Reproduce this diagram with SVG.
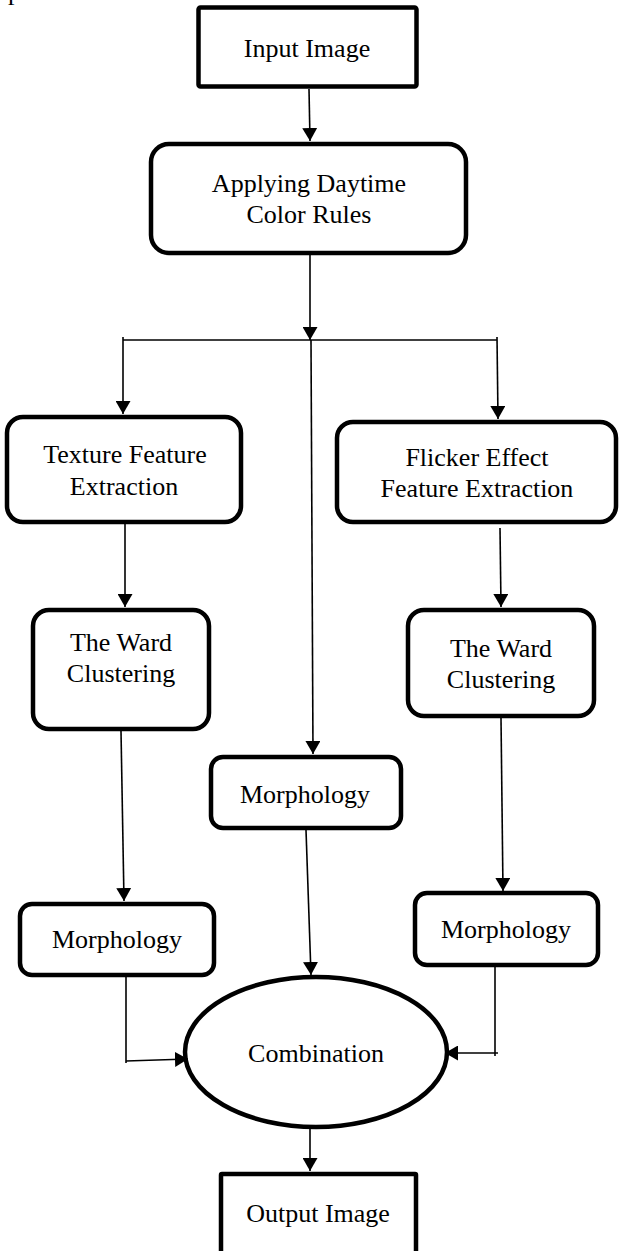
<svg xmlns="http://www.w3.org/2000/svg" width="619" height="1251" viewBox="0 0 619 1251">
<style>
  .box{fill:#fff;stroke:#000;stroke-width:4.5}
  .lbl{font-family:"Liberation Serif","Times New Roman",serif;font-size:26px;fill:#000;text-anchor:middle}
  .c{fill:none;stroke:#000;stroke-width:1.6}
</style>
<defs>
  <marker id="ah" markerUnits="userSpaceOnUse" markerWidth="14" markerHeight="15" refX="13" refY="7.5" orient="auto">
    <path d="M0,0 L13,7.5 L0,15 z" fill="#000"/>
  </marker>
</defs>
<rect width="619" height="1251" fill="#fff"/>
<text x="8" y="0" style="font-family:'Liberation Serif',serif;font-size:26px">points.</text>

<g id="input">
  <rect class="box" x="198.5" y="7.5" width="218" height="79" rx="2"/>
  <text class="lbl" x="307" y="57">Input Image</text>
</g>
<g id="applying">
  <rect class="box" x="151" y="144" width="315" height="109" rx="18"/>
  <text class="lbl" x="309" y="192">Applying Daytime</text>
  <text class="lbl" x="309" y="223">Color Rules</text>
</g>
<g id="texture">
  <rect class="box" x="7" y="417" width="234" height="105" rx="16"/>
  <text class="lbl" x="125" y="463">Texture Feature</text>
  <text class="lbl" x="124" y="495">Extraction</text>
</g>
<g id="flicker">
  <rect class="box" x="337" y="422" width="279" height="100" rx="16"/>
  <text class="lbl" x="477" y="466">Flicker Effect</text>
  <text class="lbl" x="477" y="497">Feature Extraction</text>
</g>
<g id="ward-left">
  <rect class="box" x="33" y="610" width="176" height="119" rx="16"/>
  <text class="lbl" x="121" y="651">The Ward</text>
  <text class="lbl" x="121" y="682">Clustering</text>
</g>
<g id="ward-right">
  <rect class="box" x="408" y="610" width="186" height="106" rx="16"/>
  <text class="lbl" x="501" y="657">The Ward</text>
  <text class="lbl" x="501" y="688">Clustering</text>
</g>
<g id="morph-mid">
  <rect class="box" x="211" y="757" width="190" height="71" rx="12"/>
  <text class="lbl" x="305" y="803">Morphology</text>
</g>
<g id="morph-left">
  <rect class="box" x="20" y="904" width="194" height="71" rx="12"/>
  <text class="lbl" x="117" y="948">Morphology</text>
</g>
<g id="morph-right">
  <rect class="box" x="415" y="893" width="183" height="72" rx="12"/>
  <text class="lbl" x="506" y="938">Morphology</text>
</g>
<g id="combination">
  <ellipse class="box" cx="316" cy="1052" rx="131" ry="75"/>
  <text class="lbl" x="316" y="1062">Combination</text>
</g>
<g id="output">
  <rect class="box" x="221" y="1174" width="195" height="100" rx="1"/>
  <text class="lbl" x="318" y="1222">Output Image</text>
</g>

<g id="connectors">
  <line class="c" x1="309" y1="89" x2="310" y2="141" marker-end="url(#ah)"/>
  <line class="c" x1="310" y1="255" x2="310" y2="340" marker-end="url(#ah)"/>
  <line class="c" x1="123" y1="340" x2="497" y2="340"/>
  <line class="c" x1="123" y1="337" x2="123" y2="414" marker-end="url(#ah)"/>
  <line class="c" x1="497" y1="337" x2="498" y2="419" marker-end="url(#ah)"/>
  <line class="c" x1="311" y1="340" x2="313" y2="754" marker-end="url(#ah)"/>
  <line class="c" x1="125" y1="524" x2="125" y2="607" marker-end="url(#ah)"/>
  <line class="c" x1="500" y1="528" x2="501" y2="607" marker-end="url(#ah)"/>
  <line class="c" x1="121" y1="731" x2="124" y2="901" marker-end="url(#ah)"/>
  <line class="c" x1="501" y1="718" x2="503" y2="891" marker-end="url(#ah)"/>
  <line class="c" x1="306" y1="830" x2="311" y2="975" marker-end="url(#ah)"/>
  <line class="c" x1="126" y1="977" x2="126" y2="1063"/>
  <line class="c" x1="126" y1="1061" x2="188" y2="1059" marker-end="url(#ah)"/>
  <line class="c" x1="495" y1="967" x2="495" y2="1056"/>
  <line class="c" x1="498" y1="1053" x2="445" y2="1053" marker-end="url(#ah)"/>
  <line class="c" x1="310" y1="1128" x2="310" y2="1171" marker-end="url(#ah)"/>
</g>
</svg>
